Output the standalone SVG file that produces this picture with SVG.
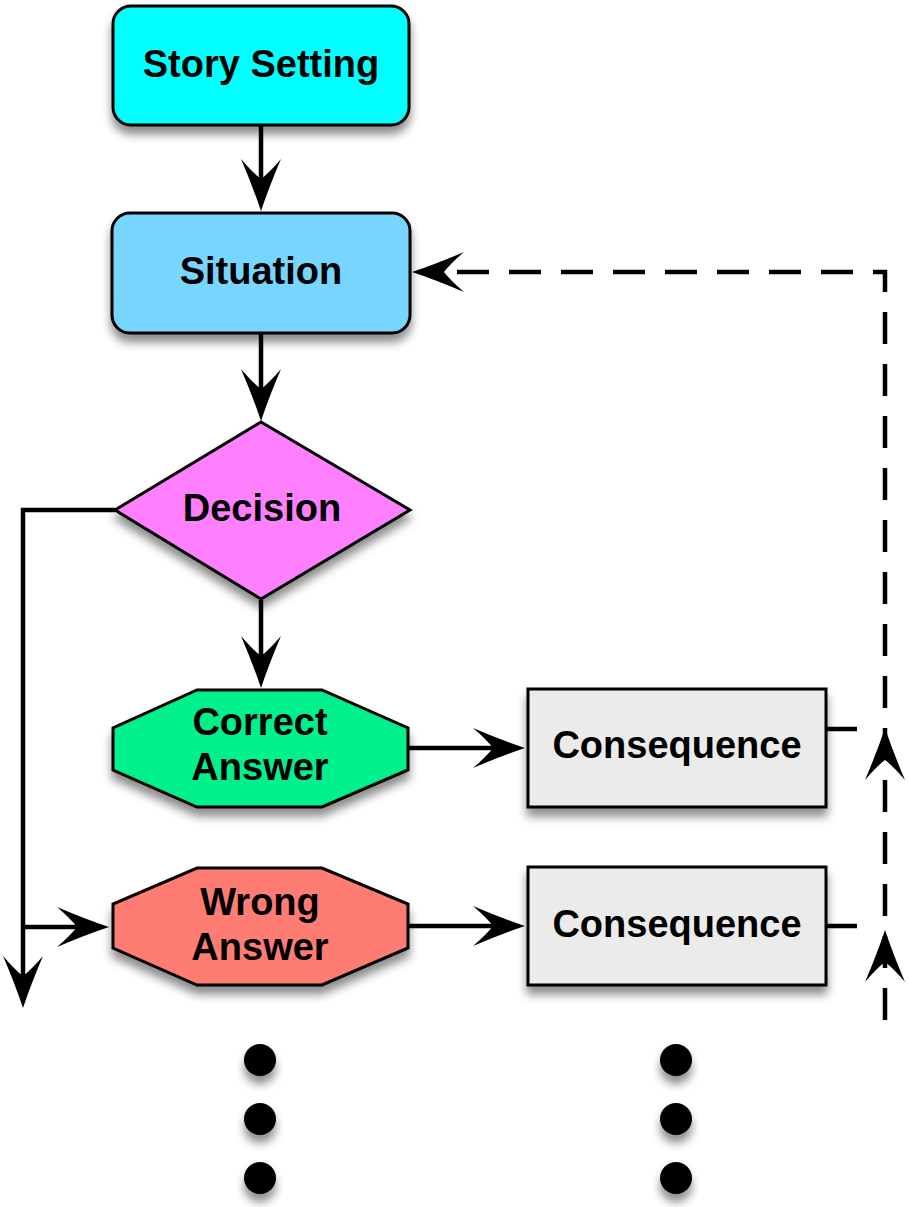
<svg xmlns="http://www.w3.org/2000/svg" xmlns:xlink="http://www.w3.org/1999/xlink" width="909" height="1207" viewBox="0 0 909 1207">
<style>
.node{stroke:#000;stroke-width:3;filter:url(#sh)}
.lbl{font-family:"Liberation Sans",Arial,Helvetica,sans-serif;font-weight:bold;font-size:38px;text-anchor:middle;fill:#000}
.con{fill:none;stroke:#000;stroke-width:4.5}
.dash{stroke-dasharray:32 20}
.dot{fill:#000;filter:url(#sh)}
</style>
<defs>
<filter id="sh" x="-20%" y="-20%" width="140%" height="170%">
<feDropShadow dx="0" dy="8" stdDeviation="5" flood-color="#000" flood-opacity="0.45"/>
</filter>
<path id="ah" d="M0,0 Q-24,-8 -52,-20 Q-38,-8 -32,0 Q-38,8 -52,20 Q-24,8 0,0 Z"/>
<marker id="arr" markerUnits="userSpaceOnUse" viewBox="-56 -22 60 44" refX="-30" refY="0" markerWidth="60" markerHeight="44" orient="auto" overflow="visible">
<use href="#ah" xlink:href="#ah" fill="#000"/>
</marker>
</defs>
<rect width="909" height="1207" fill="#fff"/>

<g id="connectors">
<path class="con" d="M261,125 V181" marker-end="url(#arr)"/>
<path class="con" d="M261,333 V391" marker-end="url(#arr)"/>
<path class="con" d="M261,600 V658" marker-end="url(#arr)"/>
<path class="con" d="M115,510 H23 V978" marker-end="url(#arr)"/>
<path class="con" d="M23,927 H79" marker-end="url(#arr)"/>
<path class="con" d="M408,748 H495" marker-end="url(#arr)"/>
<path class="con" d="M408,926 H495" marker-end="url(#arr)"/>
<path class="con" d="M826,729 H857"/>
<path class="con" d="M826,926 H857"/>
<path class="con dash" d="M885,1020 V272 H442" marker-end="url(#arr)"/>
<use href="#ah" xlink:href="#ah" transform="translate(885,728) rotate(-90)" fill="#000"/>
<use href="#ah" xlink:href="#ah" transform="translate(885,930) rotate(-90)" fill="#000"/>
</g>

<g id="story-setting">
<rect class="node" x="113" y="6" width="296" height="119" rx="18" fill="#00FFFF"/>
<text class="lbl" x="261" y="77">Story Setting</text>
</g>
<g id="situation">
<rect class="node" x="112" y="213" width="298" height="120" rx="18" fill="#77D5FF"/>
<text class="lbl" x="261" y="284">Situation</text>
</g>
<g id="decision">
<polygon class="node" points="261,422 410,510 261,599 115,510" fill="#FF80FF"/>
<text class="lbl" x="262" y="521">Decision</text>
</g>
<g id="correct-answer">
<polygon class="node" points="197,690 322,690 408,728 408,770 322,807 197,807 113,770 113,728" fill="#00F08C"/>
<text class="lbl" x="260" y="735">Correct</text>
<text class="lbl" x="260" y="780">Answer</text>
</g>
<g id="wrong-answer">
<polygon class="node" points="197,868 322,868 408,904 408,948 322,985 197,985 113,948 113,904" fill="#FF7B73"/>
<text class="lbl" x="260" y="915">Wrong</text>
<text class="lbl" x="260" y="960">Answer</text>
</g>
<g id="consequence-1">
<rect class="node" x="528" y="689" width="298" height="118" fill="#EBEBEB"/>
<text class="lbl" x="677" y="758">Consequence</text>
</g>
<g id="consequence-2">
<rect class="node" x="528" y="867" width="298" height="118" fill="#EBEBEB"/>
<text class="lbl" x="677" y="937">Consequence</text>
</g>
<g id="continuation-dots">
<circle class="dot" cx="260" cy="1060" r="16"/>
<circle class="dot" cx="260" cy="1119" r="16"/>
<circle class="dot" cx="260" cy="1178" r="16"/>
<circle class="dot" cx="676" cy="1060" r="16"/>
<circle class="dot" cx="676" cy="1119" r="16"/>
<circle class="dot" cx="676" cy="1178" r="16"/>
</g>
</svg>
